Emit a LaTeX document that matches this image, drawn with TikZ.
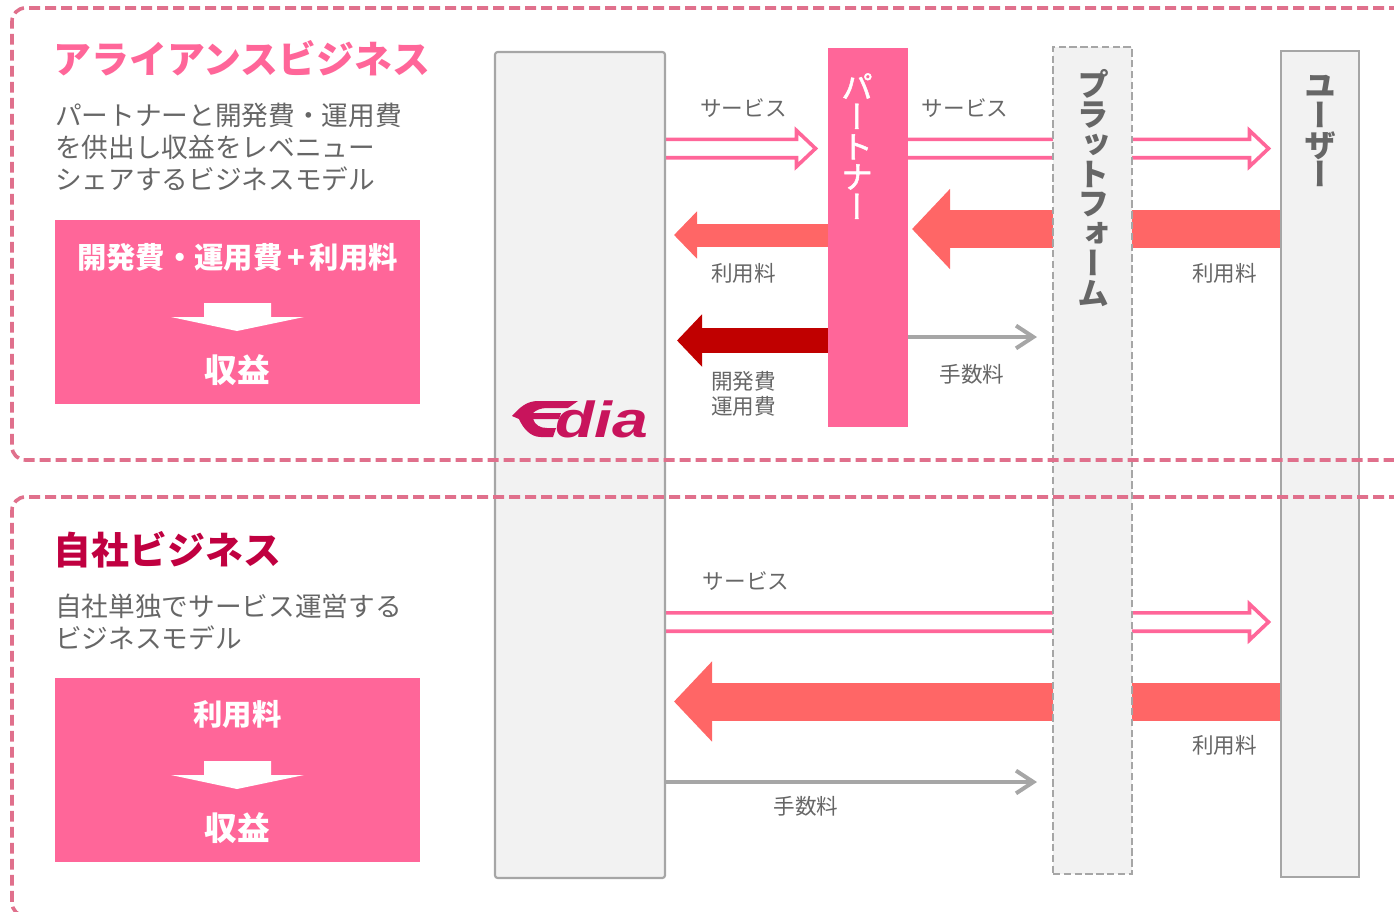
\documentclass[tikz,border=0pt]{standalone}
\usepackage{fontspec}
\setmainfont{Noto Sans CJK JP}
\newfontfamily\vjp[RawFeature={+vert},FakeBold=1.5]{Noto Sans CJK JP}
\newfontfamily\vjq[RawFeature={+vert}]{Noto Sans CJK JP}
\newfontfamily\logofont{Liberation Sans}
\usetikzlibrary{arrows.meta,calc,backgrounds}
\definecolor{pinkmain}{HTML}{FF6699}
\definecolor{salmon}{HTML}{FF6666}
\definecolor{darkred}{HTML}{C00000}
\definecolor{rosetitle}{HTML}{C00040}
\definecolor{dashpink}{HTML}{E0708C}
\definecolor{txtgray}{HTML}{666666}
\definecolor{linegray}{HTML}{A6A6A6}
\definecolor{panel}{HTML}{F2F2F2}
\definecolor{logoc}{HTML}{C8145C}
\tikzset{
  x=0.75pt,y=-0.75pt,
  lane/.style={rectangle,inner sep=0pt,outer sep=0pt,fill=panel},
  lanesolid/.style={lane,draw=linegray,line width=1.6pt},
  lanedash/.style={lane,draw=linegray,line width=1.2pt,dash pattern=on 5.5pt off 2.6pt},
  partnerbox/.style={rectangle,inner sep=0pt,outer sep=0pt,fill=pinkmain},
  sumbox/.style={rectangle,inner sep=0pt,outer sep=0pt,fill=pinkmain,minimum width=273.75pt,minimum height=138pt},
  region/.style={draw=dashpink,line width=2.7pt,dash pattern=on 8.2pt off 3.8pt,rounded corners=10pt},
  lbl/.style={inner sep=0pt,text=txtgray,font=\fontsize{16.2}{18.6}\selectfont,align=center},
  body/.style={inner sep=0pt,anchor=west,text=txtgray,font=\fontsize{20}{24}\selectfont,align=left},
  title/.style={inner sep=0pt,anchor=west,font=\bfseries\fontsize{28.4}{30}\selectfont},
  sumtext/.style={inner sep=0pt,text=white,font=\bfseries\fontsize{22}{24}\selectfont},
  vert/.style={inner sep=0pt,anchor=north,align=center},
  hollow/.style={draw=pinkmain,fill=white,line width=2.7pt,miter limit=10},
  thin arrow/.style={draw=linegray,line width=3pt,-{Straight Barb[length=13pt,width=17pt,line width=3pt]}},
  fatA/.style={salmon,line width=17.25pt,-{Triangle[length=17.25pt,width=34.5pt]}},
  fatB/.style={darkred,line width=18.75pt,-{Triangle[length=18.75pt,width=38.25pt]}},
  fatC/.style={salmon,line width=28.5pt,-{Triangle[length=28.5pt,width=58.5pt]}},
}
\newcommand{\hollowarrow}[2]{%
  \draw[hollow] ($(#1)+(0,-9.2)$) -- ($(#2)+(-19,-9.2)$) -- ($(#2)+(-19,-18)$) -- (#2) --
    ($(#2)+(-19,18)$) -- ($(#2)+(-19,9.2)$) -- ($(#1)+(0,9.2)$);}
\begin{document}
\begin{tikzpicture}
\useasboundingbox (0,0) rectangle (1394,911);
\clip (0,0) rectangle (1394,911);
% lanes
\node[lanesolid,minimum width=127.5pt,minimum height=619.5pt,rounded corners=2pt] (edia) at (580,465) {};
\node[partnerbox,minimum width=60pt,minimum height=284.25pt] (partner) at (868,237.5) {};
\node[lanedash,minimum width=59.25pt,minimum height=620.25pt] (platform) at (1092.5,460.5) {};
\node[lanesolid,minimum width=58.5pt,minimum height=619.5pt] (user) at (1320,464) {};
% helper rows
\coordinate (r1) at (0,148.5);
\coordinate (r2) at (0,235);
\coordinate (r3) at (0,340.5);
\coordinate (r4) at (0,229);
\coordinate (r5) at (0,337);
\coordinate (r6) at (0,622);
\coordinate (r7) at (0,701.5);
\coordinate (r8) at (0,782);
\coordinate (h1s) at (edia.east |- r1);
\coordinate (h1e) at (815.5,148.5);
\coordinate (h2s) at (partner.east |- r1);
\coordinate (h2e) at (1268.5,148.5);
\coordinate (h3s) at (edia.east |- r6);
\coordinate (h3e) at (1268.5,622);
\coordinate (f1e) at (674,235);
\coordinate (f2e) at (677,340.5);
\coordinate (f3e) at (912,229);
\coordinate (f4e) at (674,701.5);
\coordinate (g1e) at (1037,337);
\coordinate (g2e) at (1037,782);
\begin{scope}[on background layer]
  \hollowarrow{h1s}{h1e}
  \hollowarrow{h2s}{h2e}
  \hollowarrow{h3s}{h3e}
  \draw[fatA] (partner.west |- r2) -- (f1e);
  \draw[fatB] (partner.west |- r3) -- (f2e);
  \draw[fatC] (user.west |- r4) -- (f3e);
  \draw[fatC] (user.west |- r7) -- (f4e);
  \draw[thin arrow] (partner.east |- r5) -- (g1e);
  \draw[thin arrow] (edia.east |- r8) -- (g2e);
\end{scope}
% vertical labels
\node[vert,text=white,font=\vjp\fontsize{24}{22.5}\selectfont] (tp) at (857,73) {パ\\ー\\ト\\ナ\\ー};
\node[vert,text=txtgray,font=\vjq\bfseries\fontsize{24}{22.3}\selectfont] (tq) at (1093,69.5) {プ\\ラ\\ッ\\ト\\フ\\ォ\\ー\\ム};
\node[vert,text=txtgray,font=\vjq\bfseries\fontsize{24}{22.3}\selectfont] (tu) at (1320,75) {ユ\\ー\\ザ\\ー};
% arrow labels
\node[lbl] (l1) at (743.5,108.5) {サービス};
\node[lbl] (l2) at (965,108.5) {サービス};
\node[lbl] (l3) at (743.5,273) {利用料};
\node[lbl] (l4) at (1224.5,273) {利用料};
\node[lbl] (l5) at (743.5,393.5) {開発費\\運用費};
\node[lbl] (l6) at (972,374) {手数料};
\node[lbl] (l7) at (746,581) {サービス};
\node[lbl] (l8) at (1224.5,745) {利用料};
\node[lbl] (l9) at (806,806) {手数料};
% logo
\fill[logoc] (512,416) .. controls (520,407) and (527,401) .. (538,401) -- (578,401) -- (568,408) -- (547,408)
  .. controls (541,408) and (536,410) .. (533,413) -- (561,413) -- (559,419) -- (533,419)
  .. controls (535,425) and (540,428) .. (547,428) -- (556,428) -- (553,437) -- (541,437)
  .. controls (530,437) and (523,428) .. (519,419) -- cycle;
\node[inner sep=0pt,anchor=base west,text=logoc,font=\logofont\bfseries\itshape\fontsize{38}{40}\selectfont,xscale=1.27,transform shape] (logo) at (555,437) {dia};
% left panel
\node[title,text=pinkmain] (t1) at (53.5,58) {アライアンスビジネス};
\node[body] (b1) at (55,147) {パートナーと開発費・運用費\\を供出し収益をレベニュー\\シェアするビジネスモデル};
\node[sumbox] (s1) at (237.5,312) {};
\node[sumtext] (s1a) at (237.5,257) {開発費・運用費\kern3.5pt+\kern3.5pt利用料};
\node[sumtext,font=\bfseries\fontsize{24.5}{26}\selectfont] (s1b) at (237.5,370) {収益};
\fill[white] (204,303) -- (271,303) -- (271,317) -- (304,317) -- (237,331) -- (171,317) -- (204,317) -- cycle;
\node[title,text=rosetitle] (t2) at (53.5,550) {自社ビジネス};
\node[body] (b2) at (55,622) {自社単独でサービス運営する\\ビジネスモデル};
\node[sumbox] (s2) at (237.5,770) {};
\node[sumtext] (s2a) at (237.5,714) {利用料};
\node[sumtext,font=\bfseries\fontsize{24.5}{26}\selectfont] (s2b) at (237.5,828) {収益};
\fill[white] (204,761) -- (271,761) -- (271,775) -- (304,775) -- (237,789) -- (171,775) -- (204,775) -- cycle;
% dashed regions
\draw[region] (1400,8) -- (12,8) -- (12,460) -- (1400,460);
\draw[region] (1400,497) -- (12,497) -- (12,916) -- (1400,916);
\end{tikzpicture}
\end{document}
